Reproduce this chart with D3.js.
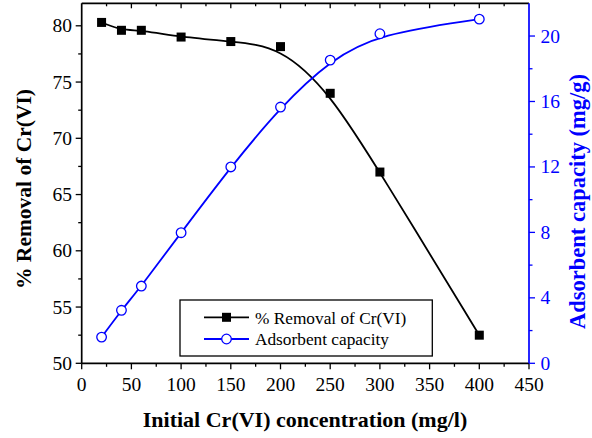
<!DOCTYPE html>
<html>
<head>
<meta charset="utf-8">
<script src="https://cdn.jsdelivr.net/npm/d3@7"></script>
<style>
  body { margin: 0; background: #fff; }
  svg { display: block; font-family: "Liberation Serif", "Times New Roman", serif; }
</style>
</head>
<body>
<svg id="chart" width="592" height="438"></svg>
<script>
// data
const concentration = [20, 40, 60, 100, 150, 200, 250, 300, 400];
const removal = [80.3, 79.6, 79.6, 79.0, 78.6, 78.15, 74.0, 67.0, 52.5];
const capacity = [1.6, 3.24, 4.72, 7.98, 12.0, 15.66, 18.53, 20.14, 21.03];

const xTicks = [0, 50, 100, 150, 200, 250, 300, 350, 400, 450];
const leftTicks = [50, 55, 60, 65, 70, 75, 80];
const rightTicks = [0, 4, 8, 12, 16, 20];

const svg = d3.select("#chart");
const blue = "#0000ff";

const margin = { left: 81.7, right: 63, top: 3.3, bottom: 74.7 };
const W = 592, H = 438;

const x = d3.scaleLinear().domain([0, 450]).range([margin.left, W - margin.right]);
const yL = d3.scaleLinear().domain([50, 82]).range([H - margin.bottom, margin.top]);
const yR = d3.scaleLinear().domain([0, 22]).range([H - margin.bottom, margin.top]);

const x0 = x.range()[0], x1 = x.range()[1];
const y0 = yL.range()[0], y1 = yL.range()[1];

// minor ticks
function minorTicks(step, lo, hi) {
  const out = [];
  for (let v = lo; v <= hi + 1e-9; v += step) out.push(+v.toFixed(4));
  return out;
}

// bottom axis
const gB = svg.append("g");
gB.selectAll("line.maj").data(xTicks).join("line")
  .attr("x1", d => x(d)).attr("x2", d => x(d))
  .attr("y1", y0).attr("y2", y0 + 6)
  .attr("stroke", "#000").attr("stroke-width", 1.3);
gB.selectAll("line.min").data(minorTicks(50, 25, 425)).join("line")
  .attr("x1", d => x(d)).attr("x2", d => x(d))
  .attr("y1", y0).attr("y2", y0 + 3.5)
  .attr("stroke", "#000").attr("stroke-width", 1.3);
gB.selectAll("text").data(xTicks).join("text")
  .attr("x", d => x(d)).attr("y", 391)
  .attr("text-anchor", "middle").attr("font-size", 19.5)
  .text(d => d);

// top frame ticks (inward)
const gT = svg.append("g");
gT.selectAll("line").data(minorTicks(25, 25, 425)).join("line")
  .attr("x1", d => x(d)).attr("x2", d => x(d))
  .attr("y1", y1).attr("y2", d => y1 + (d % 50 === 0 ? 5 : 3))
  .attr("stroke", "#000").attr("stroke-width", 1.3);

// left axis
const gL = svg.append("g");
gL.selectAll("line.maj").data(leftTicks).join("line")
  .attr("x1", x0 - 6).attr("x2", x0)
  .attr("y1", d => yL(d)).attr("y2", d => yL(d))
  .attr("stroke", "#000").attr("stroke-width", 1.3);
gL.selectAll("line.min").data(minorTicks(5, 52.5, 77.5)).join("line")
  .attr("x1", x0 - 3.5).attr("x2", x0)
  .attr("y1", d => yL(d)).attr("y2", d => yL(d))
  .attr("stroke", "#000").attr("stroke-width", 1.3);
gL.selectAll("text").data(leftTicks).join("text")
  .attr("x", 72).attr("y", d => yL(d) + 6.5)
  .attr("text-anchor", "end").attr("font-size", 19.5)
  .text(d => d);

// right axis
const gR = svg.append("g");
gR.selectAll("line.maj").data(rightTicks).join("line")
  .attr("x1", x1).attr("x2", x1 + 6)
  .attr("y1", d => yR(d)).attr("y2", d => yR(d))
  .attr("stroke", blue).attr("stroke-width", 1.3);
gR.selectAll("line.min").data(minorTicks(4, 2, 18)).join("line")
  .attr("x1", x1).attr("x2", x1 + 3.5)
  .attr("y1", d => yR(d)).attr("y2", d => yR(d))
  .attr("stroke", blue).attr("stroke-width", 1.3);
gR.selectAll("text").data(rightTicks).join("text")
  .attr("x", 540.5).attr("y", d => yR(d) + 6.5)
  .attr("text-anchor", "start").attr("font-size", 19.5)
  .attr("fill", blue)
  .text(d => d);

// frame
svg.append("line").attr("x1", x0).attr("x2", x1).attr("y1", y0).attr("y2", y0)
  .attr("stroke", "#000").attr("stroke-width", 1.7);
svg.append("line").attr("x1", x0).attr("x2", x1).attr("y1", y1).attr("y2", y1)
  .attr("stroke", "#000").attr("stroke-width", 1.7);
svg.append("line").attr("x1", x0).attr("x2", x0).attr("y1", y0).attr("y2", y1)
  .attr("stroke", "#000").attr("stroke-width", 1.7);
svg.append("line").attr("x1", x1).attr("x2", x1).attr("y1", y0).attr("y2", y1)
  .attr("stroke", blue).attr("stroke-width", 1.7);

// series
const removalPts = concentration.map((c, i) => [c, removal[i]]);
const capacityPts = concentration.map((c, i) => [c, capacity[i]]);

const lineL = d3.line().x(d => x(d[0])).y(d => yL(d[1])).curve(d3.curveBasis);
const lineR = d3.line().x(d => x(d[0])).y(d => yR(d[1])).curve(d3.curveBasis);

svg.append("path").attr("d", lineL(removalPts))
  .attr("fill", "none").attr("stroke", "#000").attr("stroke-width", 1.8);
svg.append("path").attr("d", lineR(capacityPts))
  .attr("fill", "none").attr("stroke", blue).attr("stroke-width", 1.8);

svg.selectAll("rect.sq").data(removalPts).join("rect")
  .attr("class", "sq")
  .attr("x", d => x(d[0]) - 4.5).attr("y", d => yL(d[1]) - 4.5)
  .attr("width", 9).attr("height", 9).attr("fill", "#000");

svg.selectAll("circle.ci").data(capacityPts).join("circle")
  .attr("class", "ci")
  .attr("cx", d => x(d[0])).attr("cy", d => yR(d[1]))
  .attr("r", 4.8).attr("fill", "#fff").attr("stroke", blue).attr("stroke-width", 1.3);

// legend
const lg = svg.append("g");
lg.append("rect").attr("x", 180).attr("y", 300).attr("width", 252.3).attr("height", 56)
  .attr("fill", "#fff").attr("stroke", "#000").attr("stroke-width", 1.3);
lg.append("line").attr("x1", 204).attr("x2", 249).attr("y1", 317.3).attr("y2", 317.3)
  .attr("stroke", "#000").attr("stroke-width", 1.8);
lg.append("rect").attr("x", 226.5 - 4.5).attr("y", 317.3 - 4.5).attr("width", 9).attr("height", 9)
  .attr("fill", "#000");
lg.append("text").attr("x", 255).attr("y", 323.5).attr("font-size", 17.3).text("% Removal of Cr(VI)");
lg.append("line").attr("x1", 204).attr("x2", 249).attr("y1", 339).attr("y2", 339)
  .attr("stroke", blue).attr("stroke-width", 1.8);
lg.append("circle").attr("cx", 226.5).attr("cy", 339).attr("r", 4.8)
  .attr("fill", "#fff").attr("stroke", blue).attr("stroke-width", 1.3);
lg.append("text").attr("x", 255).attr("y", 345.2).attr("font-size", 17.3).text("Adsorbent capacity");

// axis titles
svg.append("text").attr("x", 305).attr("y", 427)
  .attr("text-anchor", "middle").attr("font-size", 22).attr("font-weight", "bold")
  .text("Initial Cr(VI) concentration (mg/l)");
svg.append("text")
  .attr("transform", `translate(31,${189}) rotate(-90)`)
  .attr("text-anchor", "middle").attr("font-size", 21.5).attr("font-weight", "bold")
  .text("% Removal of Cr(VI)");
svg.append("text")
  .attr("transform", `translate(585,${201.5}) rotate(-90)`)
  .attr("text-anchor", "middle").attr("font-size", 22.5).attr("font-weight", "bold")
  .attr("fill", blue)
  .text("Adsorbent capacity (mg/g)");
</script>
</body>
</html>
